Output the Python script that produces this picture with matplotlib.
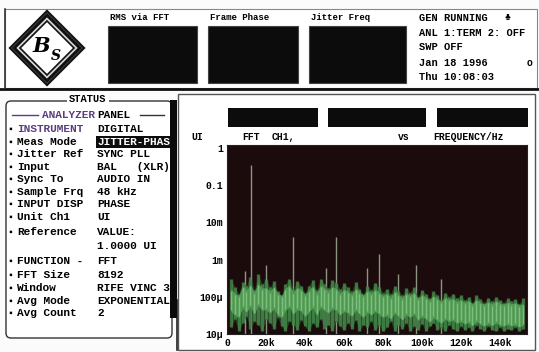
import matplotlib
matplotlib.use('Agg')
import matplotlib.pyplot as plt
from matplotlib.patches import Rectangle, Polygon, FancyBboxPatch
from matplotlib.ticker import FixedLocator, FixedFormatter
import numpy as np

W, H = 539, 352
FONT = ['Liberation Mono', 'DejaVu Sans Mono']
PURPLE = '#5a3f80'
PLOT_BG = '#1c0b0c'

# --- jitter spectrum (UI vs kHz) ---
freq_khz = [2, 4, 6, 8, 10, 12, 14, 16, 18, 20,
            22, 24, 26, 28, 30, 32, 34, 36, 38, 40,
            42, 44, 46, 48, 50, 52, 54, 56, 58, 60,
            62, 64, 66, 68, 70, 72, 74, 76, 78, 80,
            82, 84, 86, 88, 90, 92, 94, 96, 98, 100,
            102, 104, 106, 108, 110, 112, 114, 116, 118, 120,
            122, 124, 126, 128, 130, 132, 134, 136, 138, 140,
            142, 144, 146, 148, 150, 152]

# upper tips of the noise hairlines, micro-UI
noise_hi = [300, 180, 120, 250, 200, 350, 150, 400, 220, 300,
            180, 260, 140, 110, 220, 300, 160, 260, 200, 130,
            200, 280, 150, 300, 220, 170, 280, 240, 160, 230,
            180, 140, 250, 160, 120, 200, 150, 240, 180, 130,
            160, 120, 200, 140, 110, 170, 130, 180, 100, 150,
            120, 90, 140, 110, 80, 130, 100, 120, 90, 110,
            80, 100, 70, 110, 85, 70, 95, 75, 100, 80,
            70, 90, 75, 85, 65, 90]

# lower tips of the noise hairlines, micro-UI
noise_lo = [15, 25, 12, 20, 30, 14, 22, 18, 12, 25,
            20, 14, 28, 16, 12, 22, 18, 13, 24, 16,
            12, 20, 15, 26, 14, 18, 12, 22, 16, 13,
            20, 14, 24, 12, 18, 15, 22, 13, 17, 12,
            15, 22, 12, 18, 14, 20, 12, 16, 13, 19,
            12, 16, 20, 13, 15, 12, 18, 14, 12, 16,
            13, 15, 12, 17, 14, 12, 16, 13, 12, 15,
            12, 14, 13, 15, 12, 14]

# dense centre of the noise band, micro-UI
noise_mid = [90, 70, 60, 110, 85, 120, 75, 130, 95, 100,
             80, 105, 70, 60, 95, 115, 75, 100, 90, 65,
             85, 110, 70, 115, 95, 80, 105, 95, 70, 90,
             80, 65, 95, 75, 60, 85, 70, 90, 75, 60,
             70, 55, 80, 65, 52, 72, 60, 75, 50, 65,
             55, 45, 60, 50, 42, 55, 47, 52, 42, 48,
             40, 45, 36, 48, 40, 35, 42, 36, 44, 38,
             35, 40, 36, 39, 33, 38]

# discrete jitter components
spike_khz = [9, 12.3, 20, 34, 51, 56, 72, 78, 88, 97, 110]
spike_ui = [5e-4, 0.35, 7e-4, 4e-3, 6e-4, 4e-3, 6e-4, 1.4e-3, 4e-4, 7e-4, 3e-4]

y_ticks = [1e-5, 1e-4, 1e-3, 1e-2, 0.1, 1]
y_labels = ['10\u03bc', '100\u03bc', '1m', '10m', '0.1', '1']
x_ticks = [0, 20, 40, 60, 80, 100, 120, 140]
x_labels = ['0', '20k', '40k', '60k', '80k', '100k', '120k', '140k']

# --- status panel ---
status_labels = ['INSTRUMENT', 'Meas Mode', 'Jitter Ref', 'Input', 'Sync To',
                 'Sample Frq', 'INPUT DISP', 'Unit Ch1', 'Reference', '',
                 'FUNCTION -', 'FFT Size', 'Window', 'Avg Mode', 'Avg Count']
status_values = ['DIGITAL', 'JITTER-PHAS', 'SYNC PLL', 'BAL   (XLR)', 'AUDIO IN',
                 '48 kHz', 'PHASE', 'UI', 'VALUE:', '1.0000 UI',
                 'FFT', '8192', 'RIFE VINC 3', 'EXPONENTIAL', '2']
status_rows = [129, 142, 154, 167, 179, 192, 204, 217, 232, 246, 261, 275, 288, 301, 313]

meter_titles = ['RMS via FFT', 'Frame Phase', 'Jitter Freq']
meter_x = [(108, 197), (208, 298), (309, 406)]

gen_status = ['GEN RUNNING', 'ANL 1:TERM 2: OFF', 'SWP OFF', 'Jan 18 1996', 'Thu 10:08:03']
gen_rows = [18, 33, 47, 63, 77]


def txt(ax, x, y, s, size=8, color='black', **kw):
    ax.text(x, y, s, fontsize=size, color=color, family=FONT, fontweight='bold',
            va='center', **kw)


fig = plt.figure(figsize=(W / 100, H / 100), dpi=100)
fig.patch.set_facecolor('#fbfbfb')

bg = fig.add_axes([0, 0, 1, 1])
bg.set_xlim(0, W)
bg.set_ylim(H, 0)
bg.axis('off')

# top bar
bg.add_patch(Rectangle((5, 9), 532, 79, facecolor='white', edgecolor='#888888', lw=0.8))
bg.plot([0, W], [88.5, 88.5], color='#111111', lw=2)
bg.plot([5, 5], [9, 88], color='#333333', lw=1.2)

# logo
cx, cy = 47, 48
for r, lw, fc in [(37, 1.6, 'white'), (33, 2.4, '#d8d8d8'), (27, 1.2, 'white')]:
    bg.add_patch(Polygon([(cx - r, cy), (cx, cy - r), (cx + r, cy), (cx, cy + r)],
                         closed=True, facecolor=fc, edgecolor='#111111', lw=lw))
bg.text(cx - 6, cy - 2, 'B', fontsize=15, family='DejaVu Serif', style='italic',
        fontweight='bold', ha='center', va='center')
bg.text(cx + 9, cy + 8, 'S', fontsize=10, family='DejaVu Serif', style='italic',
        fontweight='bold', ha='center', va='center')

for title, (x0, x1) in zip(meter_titles, meter_x):
    txt(bg, x0 + 2, 18, title, size=6.5)
    bg.add_patch(Rectangle((x0, 26), x1 - x0, 57, facecolor='#0c0c0c', edgecolor='#444444', lw=0.8))

for s, y in zip(gen_status, gen_rows):
    txt(bg, 419, y, s, size=7.5)
txt(bg, 505, 17, '\u2663', size=7)
txt(bg, 527, 63, 'o', size=7)

# status panel
bg.add_patch(FancyBboxPatch((6, 101), 166, 237, boxstyle='round,pad=0,rounding_size=5',
                            facecolor='white', edgecolor='#333333', lw=1.0))
bg.text(88, 99, 'STATUS', fontsize=7.5, family=FONT, fontweight='bold', ha='center',
        va='center', bbox=dict(facecolor='white', edgecolor='none', pad=1.5))
bg.plot([12, 38], [115, 115], color=PURPLE, lw=1)
bg.plot([140, 164], [115, 115], color='#333333', lw=1)
txt(bg, 42, 115, 'ANALYZER', color=PURPLE)
txt(bg, 97, 115, 'PANEL')

for lab, val, y in zip(status_labels, status_values, status_rows):
    if lab:
        txt(bg, 7, y, '\u25aa', size=7)
        txt(bg, 17, y, lab, color=PURPLE if lab == 'INSTRUMENT' else 'black')
    if val == 'JITTER-PHAS':
        bg.add_patch(Rectangle((96, y - 6), 76, 12, facecolor='#0c0c0c', edgecolor='none'))
        txt(bg, 97, y, val, color='white')
    else:
        txt(bg, 97, y, val)

# scroll bar
bg.add_patch(Rectangle((170, 100), 7, 218, facecolor='#0a0a0a', edgecolor='none', zorder=5))

# graph panel
bg.add_patch(Rectangle((178, 94), 357, 256, facecolor='white', edgecolor='#555555', lw=1))
bg.plot([177, 177], [300, 350], color='#222222', lw=1.2)
for x0, x1 in [(228, 318), (328, 426), (437, 528)]:
    bg.add_patch(Rectangle((x0, 108), x1 - x0, 19, facecolor='#0c0c0c', edgecolor='none'))
txt(bg, 191, 137, 'UI', size=7)
txt(bg, 242, 137, 'FFT', size=7)
txt(bg, 272, 137, 'CH1,', size=7)
txt(bg, 398, 137, 'vs', size=7)
txt(bg, 433, 137, 'FREQUENCY/Hz', size=7)

# spectrum axes
ax = fig.add_axes([227 / W, 1 - 334 / H, 300 / W, 189 / H])
ax.set_facecolor(PLOT_BG)
ax.set_yscale('log')
ax.set_xlim(0, 154)
ax.set_ylim(1e-5, 1.2)

f = np.array(freq_khz)
hi = np.array(noise_hi) * 1e-6
lo = np.array(noise_lo) * 1e-6
mid = np.array(noise_mid) * 1e-6

ax.vlines(spike_khz, 1e-5, spike_ui, color='#a3ad98', lw=1.0, alpha=0.85, zorder=2)
ax.fill_between(f, lo, hi, color='#2a5a2e', alpha=0.7, lw=0, zorder=3)
ax.vlines(f, lo, hi, color='#4a9450', lw=2.4, alpha=0.7, zorder=3)
ax.fill_between(f, mid / 2.2, mid * 1.8, color='#5aa65c', alpha=0.8, lw=0, zorder=4)
ax.vlines(f, mid / 2.0, mid * 1.6, color='#86c984', lw=1.0, alpha=0.8, zorder=5)

ax.yaxis.set_major_locator(FixedLocator(y_ticks))
ax.yaxis.set_major_formatter(FixedFormatter(y_labels))
ax.yaxis.set_minor_locator(FixedLocator([]))
ax.xaxis.set_major_locator(FixedLocator(x_ticks))
ax.xaxis.set_major_formatter(FixedFormatter(x_labels))
ax.tick_params(length=0, pad=3, labelsize=7)
for lbl in ax.get_xticklabels() + ax.get_yticklabels():
    lbl.set_family(FONT)
    lbl.set_fontweight('bold')
for sp in ax.spines.values():
    sp.set_color('#222222')

fig.savefig('out.png', dpi=100, facecolor=fig.get_facecolor())
